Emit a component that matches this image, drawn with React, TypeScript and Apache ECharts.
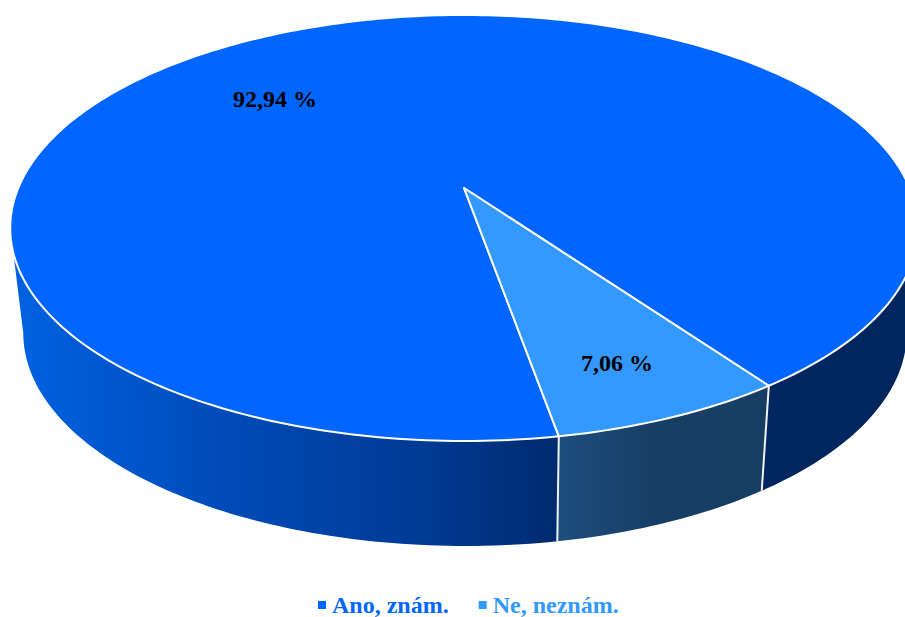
import React, { useEffect, useRef } from "react";
import * as echarts from "echarts";

const categories = ["Ano, znám.", "Ne, neznám."];
const shares = [92.94, 7.06];
const valueLabels = ["92,94 %", "7,06 %"];
const faceColors = ["#0066ff", "#3399ff"];

const FONT = '"Liberation Serif", "Times New Roman", serif';

// Perspective disc: the unit circle is projected so that its centre lands on the apex.
const APEX_X = 464;
const APEX_Y = 188;
const SCALE_X = 445.7;
const SCALE_Y = 205.5;
const TILT = -0.1877;
// The lower rim of the wall is the upper rim moved down and slightly narrowed.
const RIM_DROP = 105;
const RIM_NARROW = 0.9735;
const RIM_CENTER_X = 465;
// Where the small slice begins, clockwise from the +x direction.
const START_DEG = 54.6;
const LABEL_SPOTS = [
  [275, 99],
  [617, 363],
];

const total = shares.reduce((a, b) => a + b, 0);

function topPoint(deg: number): number[] {
  const r = (deg * Math.PI) / 180;
  const x = Math.cos(r);
  const y = Math.sin(r);
  const w = 1 + TILT * y;
  return [APEX_X + (SCALE_X * x) / w, APEX_Y + (SCALE_Y * y) / w];
}

function rimPoint(deg: number): number[] {
  const p = topPoint(deg);
  return [RIM_CENTER_X + RIM_NARROW * (p[0] - APEX_X), p[1] + RIM_DROP];
}

function arc(fn: (d: number) => number[], from: number, to: number): number[][] {
  const steps = Math.max(2, Math.ceil(Math.abs(to - from)));
  const pts: number[][] = [];
  for (let i = 0; i <= steps; i++) pts.push(fn(from + ((to - from) * i) / steps));
  return pts;
}

function wall(from: number, to: number, fill: unknown) {
  return {
    type: "polygon",
    shape: { points: [...arc(topPoint, from, to), ...arc(rimPoint, to, from)] },
    style: { fill },
  };
}

function seam(deg: number) {
  const a = topPoint(deg);
  const b = rimPoint(deg);
  return {
    type: "line",
    shape: { x1: a[0], y1: a[1], x2: b[0], y2: b[1] },
    style: { stroke: "#f0f3f6", lineWidth: 2 },
  };
}

const sideLimit = (Math.asin(-TILT) * 180) / Math.PI;

function renderSlice(index: number) {
  return (_params: unknown, api: any) => {
    const value = api.value(0);
    const sweep = (value / total) * 360;
    const smallSweep = (shares[1] / total) * 360;
    const from = index === 1 ? START_DEG : START_DEG + smallSweep;
    const to = from + sweep;
    const children: any[] = [];

    if (index === 0) {
      children.push(
        wall(
          from,
          180 - sideLimit,
          new echarts.graphic.LinearGradient(0, 0, 1, 0, [
            { offset: 0, color: "#0062e2" },
            { offset: 0.35, color: "#004dbc" },
            { offset: 0.75, color: "#003a94" },
            { offset: 1, color: "#002a6e" },
          ])
        ),
        wall(sideLimit, START_DEG, "#00265f")
      );
    } else {
      children.push(
        wall(
          from,
          to,
          new echarts.graphic.LinearGradient(0, 0, 1, 0, [
            { offset: 0, color: "#1d4e7e" },
            { offset: 0.45, color: "#173e66" },
            { offset: 1, color: "#183d62" },
          ])
        ),
        seam(from),
        seam(to)
      );
    }

    children.push({
      type: "polygon",
      shape: { points: [[APEX_X, APEX_Y], ...arc(topPoint, from, to)] },
      style: {
        fill: faceColors[index],
        stroke: "#ffffff",
        lineWidth: 2,
        lineJoin: "round",
      },
    });

    children.push({
      type: "text",
      x: LABEL_SPOTS[index][0],
      y: LABEL_SPOTS[index][1],
      style: {
        text: valueLabels[index],
        fill: "#000000",
        font: `bold 24px ${FONT}`,
        align: "center",
        verticalAlign: "middle",
      },
    });

    return { type: "group", children };
  };
}

export default function App() {
  const ref = useRef<HTMLDivElement>(null);

  useEffect(() => {
    if (!ref.current) return;
    const chart = echarts.init(ref.current, undefined, { renderer: "svg" });
    chart.setOption({
      animation: false,
      backgroundColor: "#ffffff",
      legend: {
        left: 313,
        top: 588,
        icon: "rect",
        itemWidth: 8,
        itemHeight: 8,
        itemGap: 30,
        selectedMode: false,
        data: categories.map((name, i) => ({
          name,
          textStyle: {
            color: faceColors[i],
            fontFamily: FONT,
            fontWeight: "bold",
            fontSize: 24,
            lineHeight: 20,
            padding: [0, 0, 0, 1],
          },
        })),
      },
      series: categories.map((name, i) => ({
        type: "custom",
        name,
        coordinateSystem: "none",
        itemStyle: { color: faceColors[i] },
        data: [[shares[i]]],
        renderItem: renderSlice(i),
        silent: true,
      })),
    });
    return () => chart.dispose();
  }, []);

  return (
    <div
      ref={ref}
      style={{ position: "fixed", left: 0, top: 0, width: 905, height: 617 }}
    />
  );
}
